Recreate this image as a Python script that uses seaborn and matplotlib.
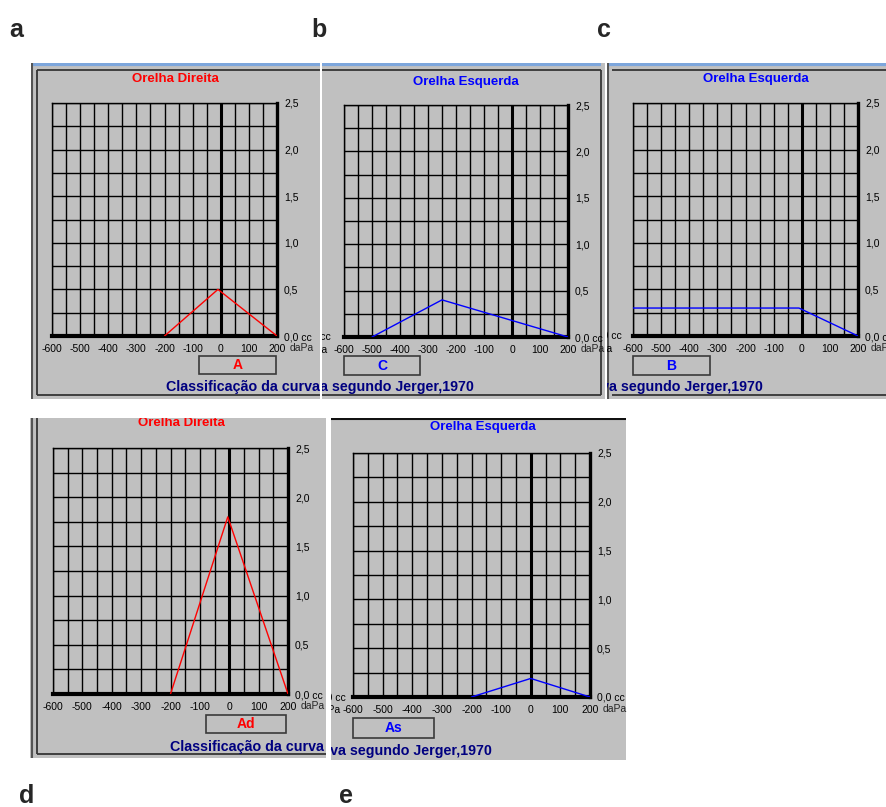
import numpy as np
import matplotlib
matplotlib.use("Agg")
import matplotlib.pyplot as plt
from matplotlib.patches import Rectangle
import seaborn as sns

panels = ["a", "b", "c", "d", "e"]
ears = ["Orelha Direita", "Orelha Esquerda", "Orelha Esquerda", "Orelha Direita", "Orelha Esquerda"]
classes = ["A", "C", "B", "Ad", "As"]
pressure_a = [-200, -10, 200]
volume_a = [0, 0.5, 0]
pressure_b = [-500, -250, 200]
volume_b = [0, 0.4, 0]
pressure_c = [-600, -10, 200]
volume_c = [0.3, 0.3, 0]
pressure_d = [-200, -5, 200]
volume_d = [0, 1.8, 0]
pressure_e = [-200, 0, 200]
volume_e = [0, 0.19, 0]
x_ticks = [-600, -500, -400, -300, -200, -100, 0, 100, 200]
y_ticks = [0, 0.5, 1.0, 1.5, 2.0, 2.5]
y_labels = ["0,0 cc", "0,5", "1,0", "1,5", "2,0", "2,5"]
caption = "Classificação da curva segundo Jerger,1970"

pressures = [pressure_a, pressure_b, pressure_c, pressure_d, pressure_e]
volumes = [volume_a, volume_b, volume_c, volume_d, volume_e]

sns.set_theme(style="white")
plt.rcParams["font.family"] = ["Liberation Sans", "DejaVu Sans"]

W, H = 886, 807
GRAY = "#C0C0C0"
DARK = "#353535"
RED = "#FF0000"
BLUE = "#0000FF"
NAVY = "#000080"
ear_colors = [RED, BLUE, BLUE, RED, BLUE]


def frac(x0, y0, x1, y1):
    return [x0 / W, 1 - y1 / H, (x1 - x0) / W, (y1 - y0) / H]


# posicoes em pixels (layout)
panel_box = [(31, 63, 320, 399), (322, 63, 605, 399), (607, 63, 886, 399),
             (30, 418, 326, 758), (331, 418, 626, 760)]
grid_box = [(52, 103, 277, 336), (344, 105, 568, 337), (633, 103, 858, 336),
            (53, 448, 288, 694), (353, 453, 590, 697)]
class_box = [(199, 356, 276, 374), (344, 356, 420, 375), (633, 356, 710, 375),
             (206, 715, 286, 733), (353, 718, 434, 738)]
title_pos = [(175, 79), (466, 82), (756, 79), (181, 423), (483, 427)]
caption_pos = [(166, 387, "left"), (474, 387, "right"), (763, 387, "right"),
               (170, 747, "left"), (492, 751, "right")]
letter_pos = [(9, 37), (311, 37), (597, 37), (19, 803), (339, 803)]
borders = [
    [(31, 64.5, 320, 64.5, "#7DA6DC", 3), (37, 70, 320, 70, DARK, 1.3), (37, 70, 37, 395, DARK, 1.3),
     (32, 63, 32, 399, "#555555", 1.5), (37, 395, 320, 395, DARK, 1.3)],
    [(322, 64.5, 601, 64.5, "#7DA6DC", 3), (322, 70, 601, 70, DARK, 1.3), (601, 70, 601, 395, DARK, 1.3),
     (322, 395, 601, 395, DARK, 1.3)],
    [(607, 64.5, 886, 64.5, "#7DA6DC", 3), (612, 70, 886, 70, DARK, 1.3), (608, 63, 608, 399, "#555555", 1.5),
     (612, 395, 886, 395, DARK, 1.3)],
    [(32, 418, 32, 758, "#555555", 1.5), (37, 418, 37, 754, DARK, 1.3), (37, 754, 326, 754, DARK, 1.3)],
    [(331, 418.5, 626, 418.5, "#111111", 1.5)],
]
# restos de rotulos de outras capturas na borda esquerda
remnants = [[], [(331, 337, "0,0 cc"), (328, 350, "daPa")], [(622, 336, "0,0 cc"), (613, 349, "daPa")],
            [], [(346, 697, "0,0 cc"), (341, 710, "daPa")]]

fig = plt.figure(figsize=(W / 100, H / 100), dpi=100)
fig.patch.set_facecolor("white")

for i in range(5):
    px0, py0, px1, py1 = panel_box[i]
    bg = fig.add_axes(frac(px0, py0, px1, py1))
    bg.set_facecolor(GRAY)
    bg.set_xlim(px0, px1)
    bg.set_ylim(py1, py0)
    bg.set_xticks([])
    bg.set_yticks([])
    for s in bg.spines.values():
        s.set_visible(False)
    for x0, y0, x1, y1, c, lw in borders[i]:
        bg.plot([x0, x1], [y0, y1], color=c, lw=lw, solid_capstyle="butt")

    tx, ty = title_pos[i]
    bg.text(tx, ty, ears[i], color=ear_colors[i], fontsize=9.5, weight="bold",
            ha="center", va="center", clip_on=True)
    cx, cy, ha = caption_pos[i]
    bg.text(cx, cy, caption, color=NAVY, fontsize=10.3, weight="bold",
            ha=ha, va="center", clip_on=True)
    bx0, by0, bx1, by1 = class_box[i]
    bg.add_patch(Rectangle((bx0, by0), bx1 - bx0, by1 - by0, fc=GRAY, ec="#3A3A3A", lw=1.2))
    bg.text((bx0 + bx1) / 2, (by0 + by1) / 2 + 0.5, classes[i], color=ear_colors[i],
            fontsize=10, weight="bold", ha="center", va="center")
    for rx, ry, s in remnants[i]:
        bg.text(rx, ry, s, fontsize=7.5, ha="right", va="center", color="black", clip_on=True)

    g = fig.add_axes(frac(*grid_box[i]))
    g.set_facecolor(GRAY)
    sns.lineplot(x=pressures[i], y=volumes[i], ax=g, color=ear_colors[i], lw=1.0,
                 estimator=None, legend=False, zorder=5)
    g.set_xlim(-600, 200)
    g.set_ylim(0, 2.5)
    g.set_xticks(x_ticks)
    g.set_xticklabels([str(v) for v in x_ticks])
    g.set_xticks(np.arange(-600, 201, 50), minor=True)
    g.yaxis.tick_right()
    g.set_yticks(y_ticks)
    g.set_yticklabels(y_labels)
    g.set_yticks(np.arange(0, 2.51, 0.25), minor=True)
    g.grid(which="both", color="black", lw=1.0)
    g.set_axisbelow(True)
    g.tick_params(which="both", length=0, labelsize=7.5, colors="black")
    g.tick_params(axis="x", pad=6)
    g.tick_params(axis="y", pad=5)
    g.set_xlabel("")
    g.set_ylabel("")
    g.axvline(0, color="black", lw=2.2, zorder=3)
    g.spines["top"].set_linewidth(1.0)
    g.spines["left"].set_linewidth(1.0)
    g.spines["bottom"].set_linewidth(3.0)
    g.spines["right"].set_linewidth(2.4)
    for s in g.spines.values():
        s.set_color("black")
        s.set_visible(True)
    # rotulo da unidade de pressao, na linha dos rotulos do eixo x
    g.annotate("daPa", xy=(1, 0), xycoords="axes fraction", xytext=(13, -12),
               textcoords="offset pixels", fontsize=7.5, ha="left", va="center")

    lx, ly = letter_pos[i]
    fig.text(lx / W, 1 - ly / H, panels[i], fontsize=18, weight="bold",
             family=["Liberation Sans Narrow", "Liberation Sans", "DejaVu Sans"], va="baseline")

fig.savefig("out.png", dpi=100, facecolor="white")
